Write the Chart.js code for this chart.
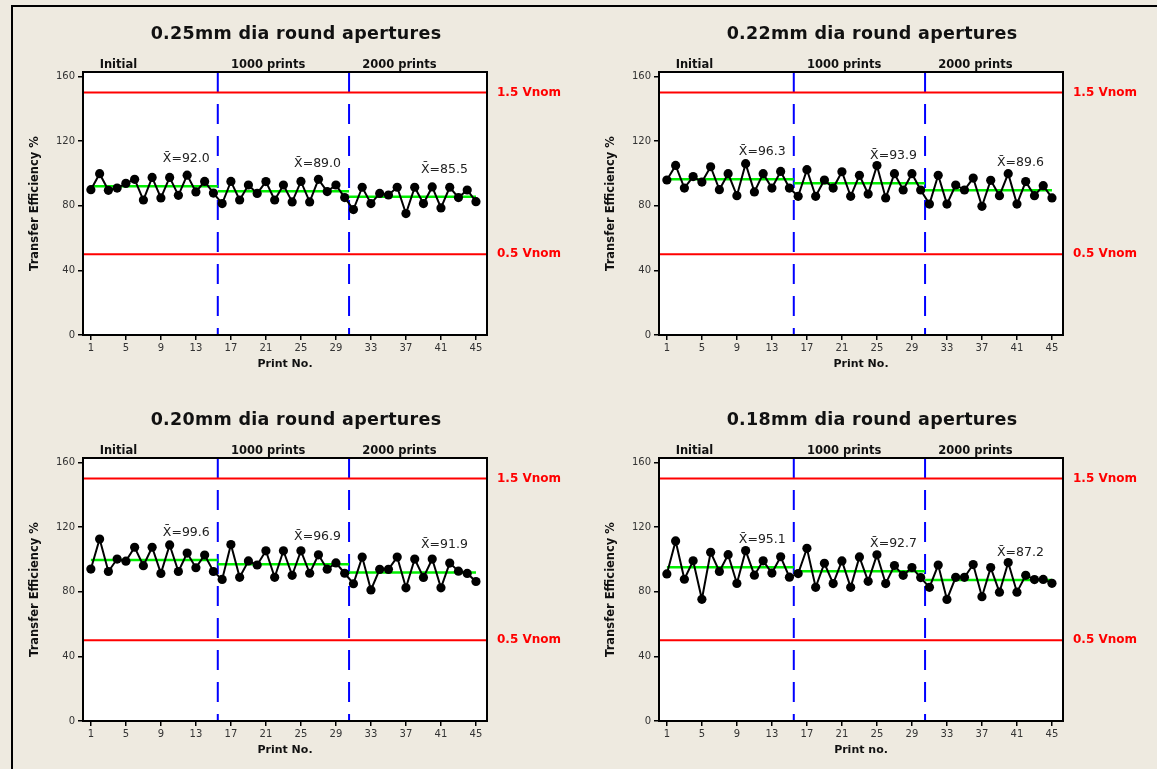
<!DOCTYPE html>
<html>
<head>
<meta charset="utf-8">
<script src="https://cdn.jsdelivr.net/npm/chart.js@4.4.1/dist/chart.umd.min.js"></script>
<style>
    body { margin: 0; width: 1157px; height: 769px; overflow: hidden; position: relative; background: #eeeae0; }
    #frame { position: absolute; left: 11px; top: 5px; width: 1200px; height: 800px; border-left: 2px solid #000; border-top: 2px solid #000; }
    .panel { position: absolute; width: 566px; height: 378px; }
</style>
</head>
<body>
<div id="frame"></div>
<div class="panel" style="left:13px;top:7px"><canvas id="c1"></canvas></div>
<div class="panel" style="left:589px;top:7px"><canvas id="c2"></canvas></div>
<div class="panel" style="left:13px;top:393px"><canvas id="c3"></canvas></div>
<div class="panel" style="left:589px;top:393px"><canvas id="c4"></canvas></div>
<script>
// Print numbers 1..45
var printNo = [];
for (var i = 1; i <= 45; i++) printNo.push(i);

var xTicks = [1, 5, 9, 13, 17, 21, 25, 29, 33, 37, 41, 45];
var yTicks = [0, 40, 80, 120, 160];

var phaseNames = ["Initial", "1000 prints", "2000 prints"];
var phaseBreaks = [15.5, 30.5];

var limitValues = [150, 50];
var limitNames = ["1.5 Vnom", "0.5 Vnom"];

var titles = [
    "0.25mm dia round apertures",
    "0.22mm dia round apertures",
    "0.20mm dia round apertures",
    "0.18mm dia round apertures"
];
var xTitles = ["Print No.", "Print No.", "Print No.", "Print no."];

// Transfer efficiency % per print
var te025 = [89.9, 99.8, 89.5, 90.9, 93.8, 96.3, 83.5, 97.5, 84.8, 97.5, 86.4, 98.9, 88.5, 95.0, 87.8,
             81.3, 95.0, 83.5, 92.8, 87.6, 94.9, 83.5, 92.8, 82.3, 95.0, 82.3, 96.3, 88.7, 92.8, 85.0,
             77.6, 91.4, 81.3, 87.6, 86.6, 91.4, 75.1, 91.4, 81.3, 91.6, 78.6, 91.4, 85.0, 89.7, 82.5];
var te022 = [95.9, 104.9, 90.9, 98.0, 94.6, 104.1, 89.9, 99.8, 86.2, 106.0, 88.5, 99.8, 90.9, 101.2, 90.9,
             85.8, 102.3, 85.8, 95.9, 90.9, 101.0, 85.8, 98.8, 87.2, 104.8, 84.8, 99.8, 89.7, 99.8, 89.7,
             81.0, 98.8, 81.0, 92.8, 89.7, 97.1, 79.6, 95.7, 86.2, 99.8, 81.0, 94.9, 86.2, 92.4, 84.8];
var te020 = [94.0, 112.6, 92.5, 100.2, 98.9, 107.5, 96.1, 107.5, 91.3, 108.9, 92.5, 103.9, 94.8, 102.7, 92.5,
             87.6, 109.2, 88.9, 99.0, 96.5, 105.3, 88.9, 105.3, 90.1, 105.3, 91.4, 102.8, 93.9, 97.8, 91.4,
             84.9, 101.4, 81.1, 93.8, 93.8, 101.4, 82.4, 100.2, 88.8, 100.2, 82.4, 97.7, 92.7, 91.3, 86.3];
var te018 = [91.0, 111.4, 87.7, 99.1, 75.3, 104.4, 92.5, 102.9, 85.1, 105.4, 90.2, 99.1, 91.5, 101.6, 89.0,
             91.2, 106.8, 82.7, 97.6, 85.0, 99.0, 82.7, 101.5, 86.4, 102.8, 85.0, 96.2, 90.1, 94.9, 88.7,
             82.7, 96.5, 75.2, 88.9, 88.9, 96.8, 76.9, 94.9, 79.7, 98.0, 79.7, 90.1, 87.5, 87.6, 85.2];

// phase means, as labelled on the chart
var mean025 = [92.0, 89.0, 85.5];
var mean022 = [96.3, 93.9, 89.6];
var mean020 = [99.6, 96.9, 91.9];
var mean018 = [95.1, 92.7, 87.2];

var X_MIN = 0.1, X_MAX = 46.26, Y_MIN = 0, Y_MAX = 162.7;
var FONT = "'DejaVu Sans', Verdana, sans-serif";

var decor = {
    id: "decor",
    beforeDraw: function (chart) {
        var a = chart.chartArea;
        chart.ctx.save();
        chart.ctx.fillStyle = "#fff";
        chart.ctx.fillRect(a.left, a.top, a.right - a.left, a.bottom - a.top);
        chart.ctx.restore();
    },
    afterDraw: function (chart) {
        var ctx = chart.ctx;
        var a = chart.chartArea;
        var xs = chart.scales.x, ys = chart.scales.y;
        var opt = chart.options.plugins.decor;
        ctx.save();
        // plot frame
        ctx.strokeStyle = "#000";
        ctx.lineWidth = 2;
        ctx.strokeRect(a.left, a.top, a.right - a.left, a.bottom - a.top);

        // panel title, centred on the panel
        ctx.fillStyle = "#111";
        ctx.font = "bold 17.5px " + FONT;
        ctx.textAlign = "center";
        ctx.textBaseline = "middle";
        ctx.letterSpacing = "0.3px";
        ctx.fillText(opt.title, chart.width / 2, 27);
        ctx.letterSpacing = "0px";

        // phase names above plot
        var starts = [0.5].concat(phaseBreaks);
        ctx.font = "bold 11.5px " + FONT;
        ctx.textAlign = "left";
        ctx.textBaseline = "bottom";
        phaseNames.forEach(function (name, k) {
            ctx.fillText(name, xs.getPixelForValue(starts[k] + 1.5), a.top - 1);
        });

        // limit labels
        ctx.fillStyle = "#ff0000";
        ctx.font = "bold 12px " + FONT;
        ctx.textBaseline = "middle";
        limitValues.forEach(function (v, k) {
            ctx.fillText(limitNames[k], a.right + 10, ys.getPixelForValue(v));
        });

        // mean labels
        var ends = phaseBreaks.concat([45]);
        ctx.fillStyle = "#222";
        ctx.font = "12.5px " + FONT;
        ctx.textAlign = "center";
        opt.means.forEach(function (m, k) {
            ctx.fillText("X\u0304=" + m.toFixed(1), xs.getPixelForValue(ends[k] - 3.6), ys.getPixelForValue(m + 17));
        });
        ctx.restore();
    }
};

function makeChart(id, title, xTitle, values, means) {
    var ctx = document.getElementById(id).getContext("2d");
    var starts = [1].concat(phaseBreaks);
    var ends = phaseBreaks.concat([45]);

    var datasets = [];
    datasets.push({
        data: values.map(function (v, k) { return { x: printNo[k], y: v }; }),
        borderColor: "#000",
        borderWidth: 2,
        pointRadius: 4.6,
        pointBorderWidth: 0,
        pointBackgroundColor: "#000",
        tension: 0
    });
    means.forEach(function (m, k) {
        datasets.push({
            data: [{ x: starts[k], y: m }, { x: ends[k], y: m }],
            borderColor: "#00ee00",
            borderWidth: 2.5,
            pointRadius: 0
        });
    });
    limitValues.forEach(function (v) {
        datasets.push({
            data: [{ x: X_MIN, y: v }, { x: X_MAX, y: v }],
            borderColor: "#ff0000",
            borderWidth: 2,
            pointRadius: 0
        });
    });
    phaseBreaks.forEach(function (b) {
        datasets.push({
            data: [{ x: b, y: Y_MAX }, { x: b, y: Y_MIN }],
            borderColor: "#0000ff",
            borderWidth: 2,
            borderDash: [20, 12],
            pointRadius: 0
        });
    });

    return new Chart(ctx, {
        type: "line",
        data: { datasets: datasets },
        plugins: [decor],
        options: {
            responsive: true,
            maintainAspectRatio: false,
            animation: false,
            events: [],
            layout: { padding: { left: 11, right: 92, top: 65, bottom: 10 } },
            plugins: {
                legend: { display: false },
                tooltip: { enabled: false },
                title: { display: false },
                decor: { means: means, title: title }
            },
            scales: {
                x: {
                    type: "linear",
                    min: X_MIN,
                    max: X_MAX,
                    afterBuildTicks: function (s) { s.ticks = xTicks.map(function (v) { return { value: v }; }); },
                    afterFit: function (s) { s.height = 40; },
                    border: { color: "#000", width: 2 },
                    grid: { drawOnChartArea: false, color: "#000", lineWidth: 1.5, tickLength: 5 },
                    ticks: { autoSkip: false, maxRotation: 0, padding: 2, color: "#333", font: { family: FONT, size: 10 } },
                    title: { display: true, text: xTitle, color: "#111", font: { family: FONT, size: 11, weight: "bold" } }
                },
                y: {
                    min: Y_MIN,
                    max: Y_MAX,
                    afterBuildTicks: function (s) { s.ticks = yTicks.map(function (v) { return { value: v }; }); },
                    afterFit: function (s) { s.width = 59; },
                    border: { color: "#000", width: 2 },
                    grid: { drawOnChartArea: false, color: "#000", lineWidth: 1.5, tickLength: 5 },
                    ticks: { padding: 3, color: "#333", font: { family: FONT, size: 10 } },
                    title: { display: true, text: "Transfer Efficiency %", color: "#111", font: { family: FONT, size: 11.5, weight: "bold" } }
                }
            }
        }
    });
}

makeChart("c1", titles[0], xTitles[0], te025, mean025);
makeChart("c2", titles[1], xTitles[1], te022, mean022);
makeChart("c3", titles[2], xTitles[2], te020, mean020);
makeChart("c4", titles[3], xTitles[3], te018, mean018);
</script>
</body>
</html>
